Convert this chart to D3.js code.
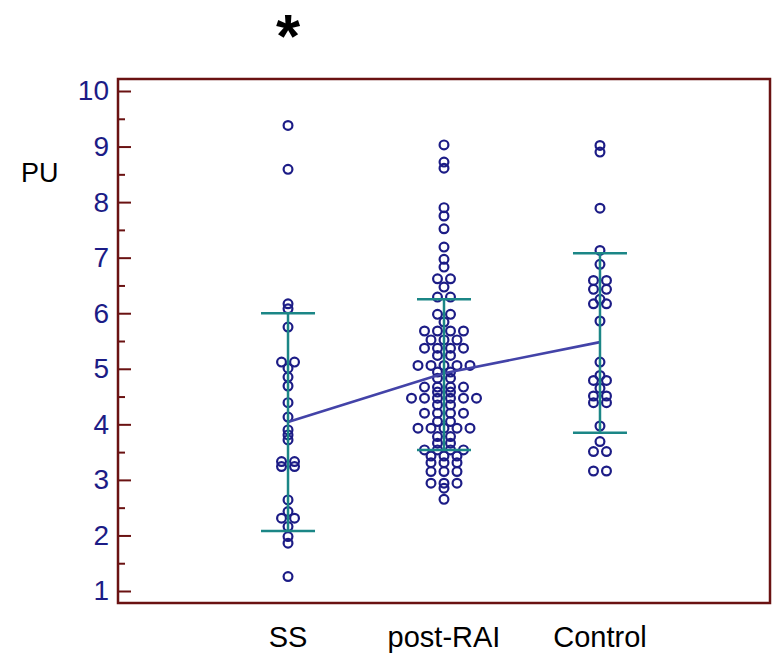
<!DOCTYPE html>
<html>
<head>
<meta charset="utf-8">
<script src="https://cdn.jsdelivr.net/npm/d3@7"></script>
<style>
  html, body { margin: 0; padding: 0; background: #ffffff; }
  svg { display: block; }
</style>
</head>
<body>
<svg id="chart" width="776" height="653"></svg>
<script>
// ---- data ----
const categories = ["SS", "post-RAI", "Control"];

const ssValues = [9.38, 8.59, 6.17, 6.08, 5.75, 5.12, 5.12, 5.01, 4.85, 4.69, 4.39, 4.13,
  3.90, 3.81, 3.72, 3.33, 3.33, 3.24, 3.24, 2.64, 2.43, 2.31, 2.31, 2.16, 1.98, 1.86, 1.26];

const postRaiValues = [9.03, 8.72, 8.61, 7.90, 7.75, 7.52, 7.19, 6.97, 6.83, 6.62, 6.62, 6.47,
  6.29, 6.29, 5.98, 5.98, 5.84, 5.68, 5.68, 5.68, 5.68, 5.52, 5.52, 5.52,
  5.37, 5.37, 5.37, 5.37, 5.24, 5.24, 5.06, 5.06, 5.06, 5.06, 5.06,
  4.94, 4.94, 4.83, 4.83, 4.67, 4.67, 4.67, 4.67, 4.58, 4.58,
  4.47, 4.47, 4.47, 4.47, 4.47, 4.47, 4.35, 4.35, 4.20, 4.20, 4.20, 4.20,
  4.05, 4.05, 3.93, 3.93, 3.93, 3.93, 3.93, 3.78, 3.78, 3.66, 3.66,
  3.54, 3.54, 3.54, 3.54, 3.43, 3.43, 3.43, 3.31, 3.31, 3.31,
  3.15, 3.15, 3.15, 2.94, 2.94, 2.94, 2.85, 2.65];

const controlValues = [9.02, 8.90, 7.89, 7.13, 6.88, 6.59, 6.59, 6.43, 6.43, 6.25, 6.17, 6.17,
  5.86, 5.12, 4.88, 4.79, 4.79, 4.65, 4.51, 4.51, 4.39, 4.39, 3.97, 3.69,
  3.51, 3.51, 3.16, 3.16];

const groupMeans = [4.04, 4.92, 5.48];
const groupUpper = [6.00, 6.25, 7.08];   // mean + SD
const groupLower = [2.08, 3.54, 3.85];   // mean - SD

const yTicks = [1, 2, 3, 4, 5, 6, 7, 8, 9, 10];
const yMinorTicks = [1.5, 2.5, 3.5, 4.5, 5.5, 6.5, 7.5, 8.5, 9.5];
const yLabel = "PU";
const significanceMark = "*";

// ---- drawing ----
const svg = d3.select("#chart");
const frame = { left: 118, right: 770 };
const y = d3.scaleLinear().domain([1, 10]).range([591, 91]);
const x = d3.scalePoint().domain(categories).range([frame.left, frame.right]).padding(1.09);
const framePad = 12;
const frameTop = y(10) - framePad, frameBottom = y(1) + framePad;

const navy = "#1c1c86";
const teal = "#1b8686";
const frameColor = "#6a1212";
const meanColor = "#4343a8";
const FONT = "'Liberation Sans', Arial, Helvetica, sans-serif";

// y axis ticks (inward) and labels
const axisG = svg.append("g").attr("transform", `translate(${frame.left},0)`);
axisG.call(d3.axisLeft(y).tickValues(yTicks).tickSize(-13).tickPadding(9).tickFormat(d3.format("d")));
axisG.select(".domain").remove();
axisG.selectAll(".tick line").attr("stroke", frameColor).attr("stroke-width", 2);
axisG.selectAll(".tick text").attr("fill", navy).style("font-family", FONT).style("font-size", "28px");

const minorG = svg.append("g").attr("transform", `translate(${frame.left},0)`);
minorG.call(d3.axisLeft(y).tickValues(yMinorTicks).tickSize(-7).tickFormat(""));
minorG.select(".domain").remove();
minorG.selectAll(".tick line").attr("stroke", frameColor).attr("stroke-width", 2);

// frame
svg.append("rect")
  .attr("x", frame.left).attr("y", frameTop)
  .attr("width", frame.right - frame.left).attr("height", frameBottom - frameTop)
  .attr("fill", "none").attr("stroke", frameColor).attr("stroke-width", 2.5);

// dots (identical values placed side by side)
const groups = [ssValues, postRaiValues, controlValues];
const step = 13;
const points = [];
groups.forEach((vals, gi) => {
  const counts = d3.rollup(vals, v => v.length, d => d);
  const seen = new Map();
  vals.forEach(v => {
    const n = counts.get(v);
    const i = seen.get(v) || 0;
    seen.set(v, i + 1);
    points.push({ cat: categories[gi], value: v, off: (i - (n - 1) / 2) * step });
  });
});

svg.append("g").selectAll("circle").data(points).join("circle")
  .attr("cx", d => x(d.cat) + d.off)
  .attr("cy", d => y(d.value))
  .attr("r", 4.4)
  .attr("fill", "none")
  .attr("stroke", navy).attr("stroke-width", 2.2);

// mean connecting line
const meanLine = d3.line().x((d, i) => x(categories[i])).y(d => y(d));
svg.append("path").datum(groupMeans)
  .attr("d", meanLine).attr("fill", "none")
  .attr("stroke", meanColor).attr("stroke-width", 2.6);

// error bars (mean ± SD)
const eb = svg.append("g");
categories.forEach((c, i) => {
  eb.append("line").attr("x1", x(c)).attr("x2", x(c))
    .attr("y1", y(groupUpper[i])).attr("y2", y(groupLower[i]))
    .attr("stroke", teal).attr("stroke-width", 2.5);
  [groupUpper[i], groupLower[i]].forEach(v => {
    eb.append("line").attr("x1", x(c) - 27).attr("x2", x(c) + 27)
      .attr("y1", y(v)).attr("y2", y(v))
      .attr("stroke", teal).attr("stroke-width", 2.5);
  });
});

// category labels
svg.append("g").selectAll("text").data(categories).join("text")
  .attr("x", d => x(d)).attr("y", 647)
  .attr("text-anchor", "middle")
  .style("font-family", FONT).style("font-size", "29px").attr("fill", "#000")
  .text(d => d);

// y label
svg.append("text").attr("x", 21).attr("y", 182)
  .style("font-family", FONT).style("font-size", "27px").attr("fill", "#000")
  .text(yLabel);

// significance asterisk above SS
svg.append("text").attr("x", x("SS")).attr("y", 57)
  .attr("text-anchor", "middle")
  .style("font-family", FONT).style("font-size", "62px").style("font-weight", "bold")
  .attr("fill", "#000").text(significanceMark);
</script>
</body>
</html>
